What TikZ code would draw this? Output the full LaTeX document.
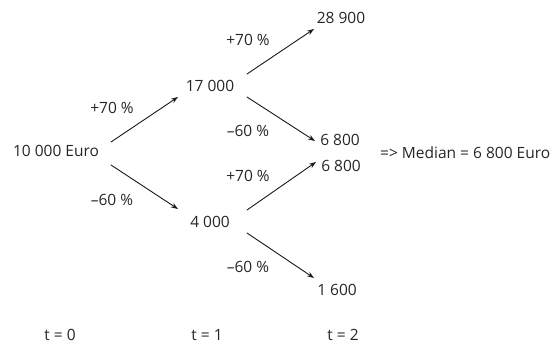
\documentclass[tikz,border=0pt]{standalone}
\usepackage{fontspec}
\setmainfont{Open Sans}
\usetikzlibrary{arrows.meta}
\begin{document}
\begin{tikzpicture}[x=1pt,y=-1pt,>={Stealth[length=7pt,width=5pt]},font=\fontsize{15.5}{18}\selectfont,line join=round,line cap=round]
	\tikzset{val/.style={inner sep=1pt,text=black!85},
		rate/.style={inner sep=1pt,text=black!85},
		edge/.style={->,line width=0.9pt,black!90}}
	\useasboundingbox (0,0) rectangle (559,345);
	% values
	\node[val] (s0) at (56,151) {10 000 Euro};
	\node[val] (u1) at (210,86) {17 000};
	\node[val] (d1) at (210,222) {4 000};
	\node[val] (uu2) at (341,18) {28 900};
	\node[val] (ud2) at (340,140) {6 800};
	\node[val] (du2) at (341,166) {6 800};
	\node[val] (dd2) at (337,290) {1 600};
	\node[val,right] (med) at (379,153) {=> Median = 6 800 Euro};
	% arrows
	\draw[edge] ([shift={(55pt,9pt)}]s0.center)--([shift={(-32pt,-11pt)}]u1.center);
	\draw[edge] ([shift={(55pt,-14pt)}]s0.center)--([shift={(-32pt,13pt)}]d1.center);
	\draw[edge] ([shift={(37pt,12pt)}]u1.center)--([shift={(-27pt,-11pt)}]uu2.center);
	\draw[edge] ([shift={(37pt,-11pt)}]u1.center)--([shift={(-25pt,-1pt)}]ud2.center);
	\draw[edge] ([shift={(37pt,12pt)}]d1.center)--([shift={(-25pt,4pt)}]du2.center);
	\draw[edge] ([shift={(37pt,-11pt)}]d1.center)--([shift={(-23pt,12pt)}]dd2.center);
	% rates
	\node[rate] (r1) at (112,108) {+70 \%};
	\node[rate] (r2) at (112,200) {–60 \%};
	\node[rate] (r3) at (248,40) {+70 \%};
	\node[rate] (r4) at (248,131) {–60 \%};
	\node[rate] (r5) at (248,176) {+70 \%};
	\node[rate] (r6) at (248,267) {–60 \%};
	% time
	\node[val] (t0) at (60,335) {t = 0};
	\node[val] (t1) at (207,335) {t = 1};
	\node[val] (t2) at (343,335) {t = 2};
\end{tikzpicture}
\end{document}
